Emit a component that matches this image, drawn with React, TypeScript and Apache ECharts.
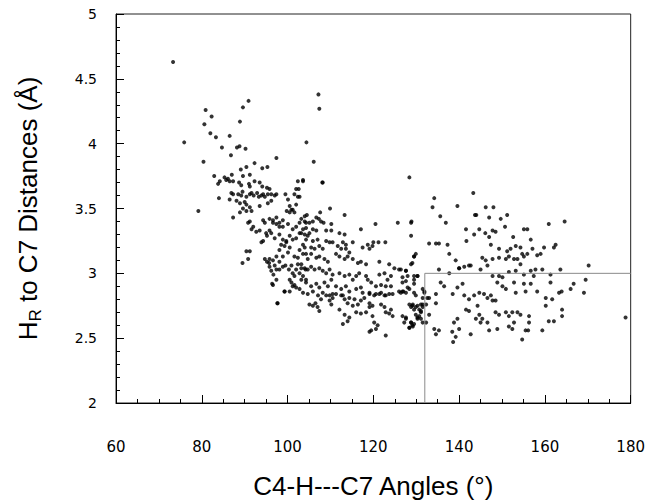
import React, { useEffect, useRef } from "react";
import * as echarts from "echarts";

// C4-H---C7 angle (deg), H_R to C7 distance (Å)
const points: [number, number][] = [
  // upper sparse region
  [73.3, 4.63], [75.9, 4.01], [80.9, 4.26], [82.3, 4.21], [80.6, 4.15], [82.0, 4.08], [83.3, 4.05],
  [80.4, 3.86], [84.7, 3.97], [86.5, 4.06], [86.8, 3.91], [88.2, 3.97], [88.8, 3.98], [90.2, 3.96],
  [88.9, 4.17], [89.6, 4.28], [90.9, 4.33], [104.4, 4.01], [107.2, 4.38], [107.4, 4.27], [97.4, 3.89],
  [92.3, 3.85], [90.4, 3.82], [89.1, 3.80], [94.1, 3.81], [95.3, 3.82], [91.2, 3.76], [89.6, 3.75],
  [87.0, 3.76], [82.9, 3.75], [85.3, 3.74], [86.1, 3.73], [106.1, 3.86], [103.6, 3.72], [108.2, 3.70],
  [102.0, 3.65], [100.1, 3.57], [100.5, 3.52], [99.8, 3.48], [101.2, 3.49], [128.4, 3.74],
  // 76-106 band
  [83.8, 3.69], [84.2, 3.71], [85.7, 3.72], [86.5, 3.71], [87.3, 3.71], [88.7, 3.70], [89.2, 3.68],
  [91.0, 3.69], [91.2, 3.67], [92.3, 3.71], [93.5, 3.70], [94.1, 3.67], [95.2, 3.66], [95.8, 3.65],
  [102.4, 3.71], [86.9, 3.62], [87.3, 3.61], [88.5, 3.61], [89.2, 3.60], [89.5, 3.63], [90.4, 3.59],
  [91.2, 3.61], [91.6, 3.62], [92.1, 3.60], [92.9, 3.62], [93.3, 3.59], [93.9, 3.60], [94.3, 3.61],
  [94.7, 3.59], [95.4, 3.61], [96.2, 3.61], [97.4, 3.61], [99.5, 3.61], [101.6, 3.61], [102.4, 3.59],
  [102.6, 3.65], [84.0, 3.58], [86.5, 3.57], [88.1, 3.56], [88.9, 3.54], [90.0, 3.55], [90.4, 3.53],
  [91.2, 3.51], [91.6, 3.48], [90.4, 3.48], [89.6, 3.50], [88.9, 3.47], [93.5, 3.52], [95.4, 3.54],
  [96.2, 3.56], [97.0, 3.60], [79.2, 3.48], [87.3, 3.43], [90.8, 3.39], [91.2, 3.40], [91.6, 3.34],
  [92.0, 3.36], [92.7, 3.32], [93.5, 3.33], [94.3, 3.41], [94.7, 3.39], [95.8, 3.42], [96.6, 3.41],
  [97.4, 3.43], [98.1, 3.39], [98.9, 3.41], [100.5, 3.47], [100.9, 3.49], [101.6, 3.47], [102.0, 3.53],
  [102.8, 3.59], [104.0, 3.44], [104.3, 3.39], [102.8, 3.39], [102.0, 3.36], [101.2, 3.34], [100.1, 3.38],
  [98.9, 3.36], [98.1, 3.36], [97.4, 3.38], [96.6, 3.39], [95.8, 3.33], [96.2, 3.31], [95.0, 3.31],
  [94.3, 3.25], [93.9, 3.24], [95.2, 3.29], [97.0, 3.27], [98.1, 3.30], [98.9, 3.26], [99.7, 3.25],
  [100.5, 3.29], [101.2, 3.26], [102.0, 3.27], [102.8, 3.31], [103.6, 3.34], [104.3, 3.35], [104.7, 3.29],
  [90.4, 3.17], [91.2, 3.17], [90.8, 3.11], [89.5, 3.08], [94.7, 3.11], [95.2, 3.09], [95.7, 3.08],
  [95.8, 3.11], [96.6, 3.10], [97.4, 3.13], [98.1, 3.18], [98.5, 3.22], [99.3, 3.21], [99.7, 3.24],
  [100.5, 3.20], [100.1, 3.16], [98.9, 3.13], [98.1, 3.09], [97.0, 3.06], [95.8, 3.05], [96.2, 3.02],
  [96.7, 2.99], [97.4, 3.03], [98.1, 3.03], [98.9, 3.05], [99.5, 3.06], [100.3, 3.03], [100.9, 3.06],
  [101.2, 3.00], [101.6, 2.98], [102.0, 3.03], [102.4, 3.07], [102.8, 3.00], [103.2, 3.04], [103.6, 2.98],
  [104.2, 3.03], [104.3, 2.95], [104.7, 3.11], [101.6, 3.13], [102.4, 3.12], [103.6, 3.15], [102.8, 3.18],
  [104.0, 3.20], [96.6, 2.91], [97.4, 2.95], [100.5, 2.95], [100.9, 2.93], [101.6, 2.91], [102.0, 2.89],
  [102.8, 2.88], [101.2, 2.90], [99.3, 2.86], [100.5, 2.86], [96.4, 2.92], [97.6, 2.77],
  // 103-133 band
  [103.6, 3.71], [108.1, 3.70], [109.9, 3.50], [113.3, 3.45], [107.6, 3.47], [104.5, 3.45], [106.7, 3.43],
  [107.3, 3.42], [107.8, 3.40], [108.4, 3.39], [105.9, 3.40], [105.1, 3.39], [104.0, 3.40], [103.2, 3.42],
  [110.2, 3.38], [120.5, 3.38], [125.7, 3.39], [128.8, 3.39], [117.1, 3.34], [112.1, 3.31], [113.3, 3.30],
  [110.2, 3.33], [109.0, 3.33], [106.7, 3.33], [105.9, 3.34], [105.1, 3.31], [104.0, 3.30], [103.2, 3.31],
  [128.8, 3.29], [109.0, 3.25], [109.8, 3.24], [110.5, 3.24], [107.0, 3.26], [105.9, 3.25], [104.3, 3.26],
  [103.6, 3.22], [112.9, 3.24], [113.6, 3.22], [115.2, 3.24], [118.7, 3.22], [120.0, 3.24], [121.2, 3.24],
  [122.8, 3.24], [117.5, 3.20], [119.1, 3.19], [119.8, 3.21], [107.4, 3.21], [108.2, 3.19], [106.3, 3.19],
  [105.5, 3.20], [111.7, 3.21], [112.5, 3.19], [113.6, 3.19], [114.4, 3.16], [104.3, 3.15], [105.5, 3.15],
  [106.7, 3.12], [107.4, 3.13], [108.6, 3.11], [109.4, 3.09], [111.3, 3.15], [112.1, 3.13], [113.3, 3.11],
  [114.0, 3.13], [115.2, 3.11], [116.4, 3.08], [117.1, 3.09], [118.3, 3.07], [121.4, 3.09], [123.7, 3.07],
  [124.9, 3.04], [126.0, 3.03], [127.6, 3.02], [128.8, 3.07], [129.5, 3.13], [129.9, 3.15], [103.2, 3.07],
  [104.0, 3.04], [104.7, 3.03], [105.5, 3.05], [106.3, 3.03], [107.4, 3.04], [108.2, 3.02], [109.0, 3.00],
  [109.8, 3.03], [110.5, 2.99], [112.1, 3.00], [113.3, 2.98], [114.4, 2.99], [115.2, 2.95], [116.0, 2.98],
  [116.7, 3.00], [118.3, 2.98], [118.7, 2.95], [119.5, 2.93], [121.4, 2.99], [122.6, 3.00], [124.1, 2.98],
  [123.3, 2.95], [126.8, 2.97], [127.6, 2.94], [129.5, 2.95], [130.3, 2.98], [103.2, 2.95], [104.3, 2.93],
  [105.5, 2.90], [106.7, 2.92], [107.4, 2.89], [108.6, 2.93], [109.4, 2.90], [110.2, 2.95], [111.3, 2.90],
  [112.5, 2.88], [113.6, 2.90], [114.4, 2.86], [116.0, 2.88], [117.1, 2.89], [117.5, 2.85], [120.6, 2.90],
  [121.8, 2.91], [122.9, 2.90], [124.1, 2.90], [126.0, 2.86], [128.4, 2.88], [129.5, 2.85], [119.1, 2.84],
  [120.2, 2.83], [121.4, 2.84], [122.9, 2.83], [124.5, 2.84], [103.6, 2.85], [104.7, 2.84], [105.9, 2.86],
  [107.1, 2.83], [108.2, 2.85], [109.8, 2.83], [110.5, 2.84], [112.9, 2.83], [114.4, 2.81],
  // lower band 97-133
  [97.7, 2.77], [99.3, 2.86], [105.1, 2.76], [105.9, 2.75], [106.5, 2.77], [107.0, 2.74], [107.4, 2.71],
  [107.8, 2.80], [109.0, 2.83], [109.8, 2.79], [110.2, 2.76], [110.5, 2.81], [111.3, 2.84], [112.5, 2.83],
  [113.3, 2.80], [112.1, 2.72], [113.3, 2.68], [112.9, 2.61], [114.0, 2.63], [114.4, 2.66], [114.0, 2.77],
  [115.2, 2.75], [115.6, 2.80], [116.4, 2.76], [117.1, 2.79], [117.9, 2.81], [119.1, 2.77], [116.0, 2.70],
  [117.1, 2.69], [118.3, 2.70], [119.1, 2.74], [119.8, 2.75], [119.8, 2.67], [120.2, 2.62], [121.0, 2.60],
  [120.6, 2.57], [119.5, 2.56], [119.1, 2.55], [122.9, 2.52], [119.1, 2.85], [120.6, 2.84], [121.8, 2.85],
  [122.6, 2.83], [123.7, 2.84], [121.8, 2.76], [122.6, 2.74], [122.9, 2.70], [123.7, 2.69], [124.5, 2.67],
  [124.1, 2.72], [126.8, 2.86], [127.6, 2.85], [126.8, 2.67], [127.6, 2.65], [128.8, 2.62], [129.1, 2.60],
  [128.4, 2.58], [129.5, 2.61], [128.4, 2.76], [129.1, 2.75], [129.9, 2.74], [130.7, 2.72], [131.1, 2.70],
  [131.5, 2.76], [131.1, 2.65], [130.3, 2.66], [131.5, 2.81], [131.9, 2.86],
  // right region
  [143.3, 3.62], [134.2, 3.58], [133.8, 3.51], [139.6, 3.52], [146.2, 3.51], [148.0, 3.51], [151.2, 3.45],
  [135.6, 3.44], [136.9, 3.39], [128.9, 3.40], [143.7, 3.45], [144.0, 3.45], [147.0, 3.43], [149.7, 3.42],
  [150.7, 3.36], [160.9, 3.38], [164.6, 3.40], [141.6, 3.34], [143.5, 3.30], [144.7, 3.34], [146.1, 3.31],
  [147.0, 3.28], [147.8, 3.33], [148.5, 3.32], [152.6, 3.28], [155.1, 3.34], [155.9, 3.34], [156.7, 3.26],
  [141.7, 3.25], [147.4, 3.22], [149.3, 3.19], [151.2, 3.17], [152.0, 3.19], [153.2, 3.21], [154.3, 3.20],
  [155.1, 3.13], [155.9, 3.15], [157.1, 3.19], [158.2, 3.14], [159.0, 3.15], [159.8, 3.20], [162.1, 3.20],
  [162.5, 3.22], [133.0, 3.23], [134.6, 3.23], [135.3, 3.23], [137.3, 3.22], [137.7, 3.15], [139.2, 3.10],
  [140.0, 3.04], [141.2, 3.05], [142.7, 3.06], [145.4, 3.12], [146.2, 3.10], [147.8, 3.11], [149.3, 3.12],
  [150.9, 3.11], [151.6, 3.13], [152.8, 3.11], [153.6, 3.11], [154.3, 3.07], [154.7, 3.15], [129.5, 3.13],
  [129.1, 3.08], [126.4, 3.03], [127.6, 3.02], [129.5, 2.98], [130.3, 2.98], [135.3, 3.03], [137.7, 3.00],
  [140.0, 3.04], [142.3, 3.06], [145.0, 3.03], [146.6, 3.06], [147.8, 2.98], [149.3, 2.98], [150.1, 2.97],
  [151.6, 3.01], [153.2, 3.02], [155.1, 2.99], [156.7, 3.02], [157.4, 2.98], [157.8, 3.03], [159.4, 3.03],
  [161.3, 2.99], [163.6, 3.03], [166.7, 2.92], [169.1, 2.85], [169.5, 2.95], [170.2, 3.06], [178.8, 2.66],
  [166.0, 2.88], [163.9, 2.86], [163.3, 2.85], [126.8, 2.93], [128.0, 2.89], [129.5, 2.92], [131.5, 2.88],
  [131.9, 2.85], [133.0, 2.81], [134.6, 2.84], [134.6, 2.77], [135.7, 2.93], [136.5, 2.90], [138.5, 2.84],
  [139.6, 2.89], [140.8, 2.92], [141.2, 2.83], [142.3, 2.80], [143.5, 2.83], [144.7, 2.85], [145.8, 2.84],
  [146.6, 2.81], [147.4, 2.83], [147.8, 2.79], [148.5, 2.79], [148.9, 2.93], [150.1, 2.90], [150.9, 2.88],
  [152.8, 2.93], [153.2, 2.85], [155.1, 2.92], [155.5, 2.86], [156.7, 2.92], [158.2, 2.86], [160.2, 2.81],
  [161.3, 2.93], [161.7, 2.80], [160.2, 2.75], [141.6, 2.72], [142.3, 2.71], [144.3, 2.75], [144.7, 2.68],
  [145.4, 2.65], [146.6, 2.62], [148.5, 2.70], [149.3, 2.68], [150.9, 2.70], [151.6, 2.67], [152.4, 2.70],
  [153.6, 2.70], [152.8, 2.62], [151.6, 2.59], [152.4, 2.57], [154.3, 2.68], [156.3, 2.67], [156.3, 2.62],
  [155.5, 2.56], [156.1, 2.56], [159.4, 2.56], [160.9, 2.63], [162.1, 2.63], [164.0, 2.72], [164.0, 2.67],
  [138.8, 2.62], [139.6, 2.65], [140.0, 2.57], [138.4, 2.55], [139.2, 2.51], [138.6, 2.47], [142.7, 2.53],
  [143.9, 2.65], [145.0, 2.62], [147.0, 2.56], [148.9, 2.57], [154.7, 2.49], [135.3, 2.56], [134.6, 2.53],
  [134.2, 2.57], [128.0, 2.98], [129.2, 2.76], [128.8, 2.74], [129.5, 2.72], [130.3, 2.75], [131.1, 2.71],
  [130.7, 2.67], [131.5, 2.74], [132.3, 2.76], [132.6, 2.81], [133.0, 2.68], [127.6, 2.66], [127.2, 2.62],
  [128.8, 2.62], [129.2, 2.59], [130.3, 2.65], [131.5, 2.62], [132.3, 2.62], [128.4, 2.58], [129.9, 2.68],
  [127.0, 2.86], [126.4, 2.85], [129.9, 2.83], [131.1, 2.76],
];

// reference box (angle ≥ 132°, distance ≤ 3 Å)
const boxAngle = [132, 180];
const boxDist = [2, 3];

const xTicks = { min: 60, max: 180, interval: 20 };
const yTicks = { min: 2, max: 5, interval: 0.5 };

export default function App() {
  const ref = useRef<HTMLDivElement>(null);
  useEffect(() => {
    if (!ref.current) return;
    const chart = echarts.init(ref.current, undefined, { renderer: "svg" });
    const font = "'Liberation Sans', Arial, Helvetica, sans-serif";
    const tickFont = "'DejaVu Sans', 'Liberation Sans', sans-serif";
    chart.setOption({
      animation: false,
      backgroundColor: "#fff",
      grid: {
        left: 116,
        top: 14,
        width: 516,
        height: 390,
        show: true,
        borderColor: "#222",
        borderWidth: 1,
        backgroundColor: "transparent",
      },
      xAxis: {
        type: "value",
        min: xTicks.min,
        max: xTicks.max,
        interval: xTicks.interval,
        name: "C4-H---C7 Angles (°)",
        nameLocation: "middle",
        nameGap: 70,
        nameTextStyle: { fontFamily: font, fontSize: 26, color: "#000" },
        axisLine: { show: true, lineStyle: { color: "#000", width: 1 } },
        axisTick: { show: true, inside: true, length: 8, lineStyle: { color: "#000" } },
        minorTick: { show: true, splitNumber: 4, length: 4, lineStyle: { color: "#000" } },
        splitLine: { show: false },
        axisLabel: { margin: 36, fontFamily: tickFont, fontSize: 15, color: "#000" },
      },
      yAxis: {
        type: "value",
        min: yTicks.min,
        max: yTicks.max,
        interval: yTicks.interval,
        name: "{n|H}{s|R}{n| to C7 Distances (Å)}",
        nameLocation: "middle",
        nameGap: 72,
        nameTextStyle: {
          fontFamily: font,
          fontSize: 26,
          color: "#000",
          rich: {
            n: { fontFamily: font, fontSize: 26, color: "#000" },
            s: { fontFamily: font, fontSize: 17, color: "#000", padding: [16, 0, 0, 0] },
          },
        },
        axisLine: { show: true, lineStyle: { color: "#000", width: 1 } },
        axisTick: { show: true, inside: true, length: 8, lineStyle: { color: "#000" } },
        minorTick: { show: true, splitNumber: 5, length: 4, lineStyle: { color: "#000" } },
        splitLine: { show: false },
        axisLabel: {
          margin: 19,
          fontFamily: tickFont,
          fontSize: 14,
          color: "#000",
          formatter: (v: number) => String(v),
        },
      },
      series: [
        {
          type: "scatter",
          data: points,
          symbol: "circle",
          symbolSize: 4,
          itemStyle: { color: "#000" },
          silent: true,
        },
        {
          type: "line",
          data: [
            [boxAngle[0], boxDist[0]],
            [boxAngle[0], boxDist[1]],
            [boxAngle[1], boxDist[1]],
          ],
          symbol: "none",
          lineStyle: { color: "#8a8a8a", width: 1 },
          silent: true,
        },
      ],
    });
    return () => chart.dispose();
  }, []);
  return <div ref={ref} style={{ width: 648, height: 504, position: "absolute", left: 0, top: 0 }} />;
}
